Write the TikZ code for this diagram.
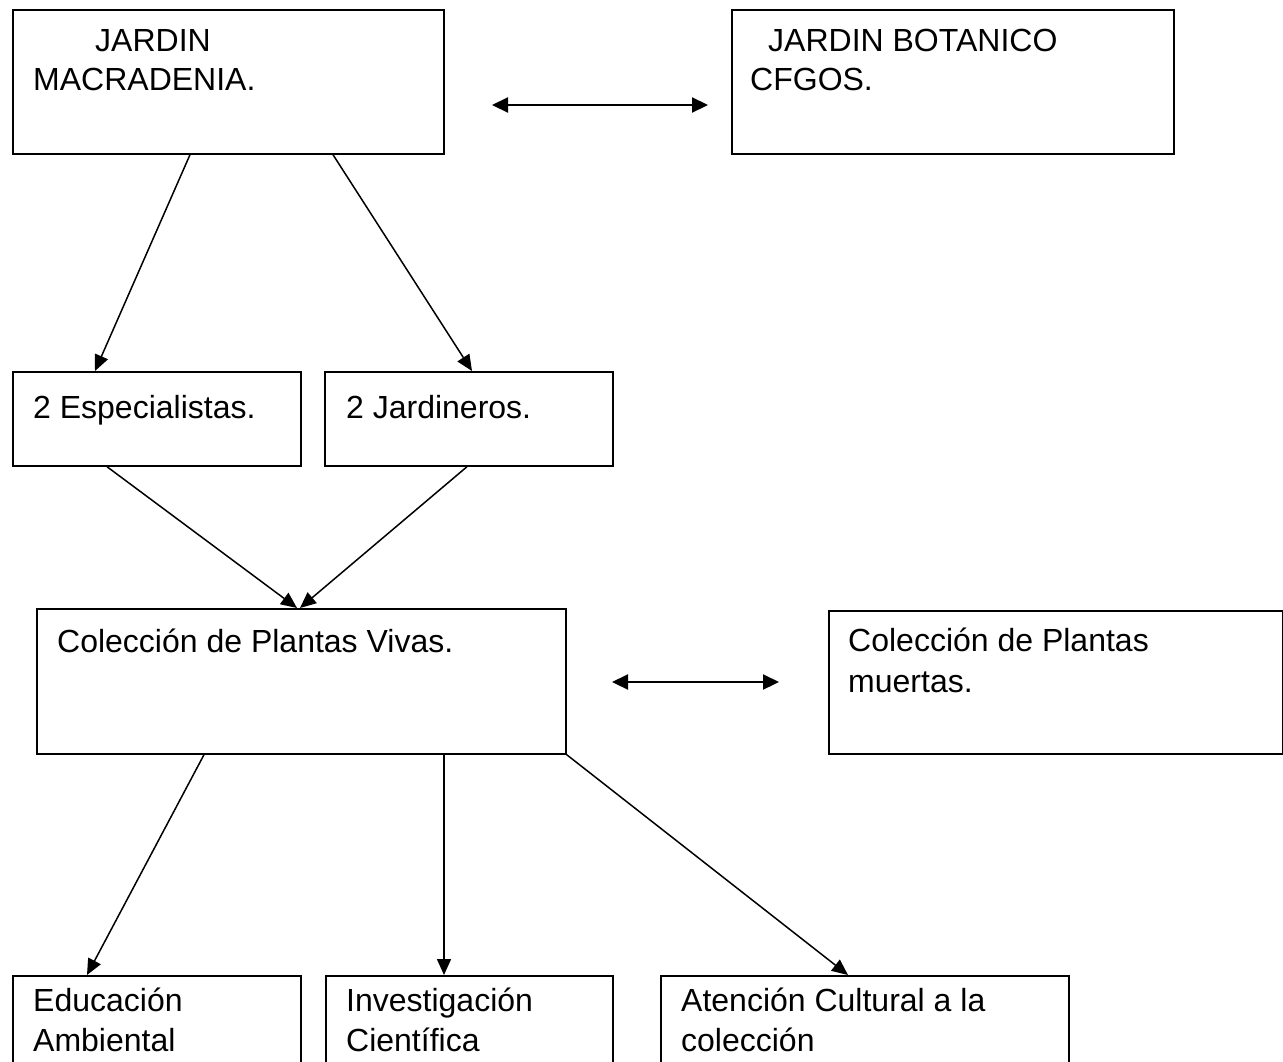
\documentclass[tikz,border=0pt]{standalone}
\usepackage{fontspec}
\setmainfont{Liberation Sans}
\usetikzlibrary{arrows.meta,calc}
\begin{document}
\begin{tikzpicture}[x=1pt,y=-1pt,
  box/.style={draw,line width=1.7pt,anchor=north west,inner sep=0pt},
  txt/.style={anchor=base west,inner sep=0pt,font=\fontsize{32}{38}\selectfont},
  arr/.style={line width=1.5pt,-{Triangle[length=16pt,width=14pt]}},
  darr/.style={line width=2.2pt,{Triangle[length=16pt,width=15pt]}-{Triangle[length=16pt,width=15pt]}}]
\useasboundingbox (0,0) rectangle (1283,1061);
\clip (0,0) rectangle (1283,1061);
% boxes
\node[box,minimum width=431pt,minimum height=144pt] (A) at (12,9) {};
\node[box,minimum width=442pt,minimum height=144pt] (B) at (731,9) {};
\node[box,minimum width=288pt,minimum height=94pt] (Esp) at (12,371) {};
\node[box,minimum width=288pt,minimum height=94pt] (Jar) at (324,371) {};
\node[box,minimum width=529pt,minimum height=145pt] (Viv) at (36,608) {};
\node[box,minimum width=454pt,minimum height=143pt] (Mue) at (828,610) {};
\node[box,minimum width=288pt,minimum height=150pt] (Edu) at (12,975) {};
\node[box,minimum width=287pt,minimum height=150pt] (Inv) at (325,975) {};
\node[box,minimum width=408pt,minimum height=150pt] (Ate) at (660,975) {};
% texts
\node[txt] (tA1) at (95,51) {JARDIN};
\node[txt] (tA2) at (33,90) {MACRADENIA.};
\node[txt] (tB1) at (768,51) {JARDIN BOTANICO};
\node[txt] (tB2) at (750,90) {CFGOS.};
\node[txt] (tE) at (33,418) {2 Especialistas.};
\node[txt] (tJ) at (346,418) {2 Jardineros.};
\node[txt] (tV) at (57,652) {Colección de Plantas Vivas.};
\node[txt] (tM1) at (848,651) {Colección de Plantas};
\node[txt] (tM2) at (848,692) {muertas.};
\node[txt] (tEd1) at (33,1011) {Educación};
\node[txt] (tEd2) at (33,1051) {Ambiental};
\node[txt] (tI1) at (346,1011) {Investigación};
\node[txt] (tI2) at (346,1051) {Científica};
\node[txt] (tAt1) at (681,1011) {Atención Cultural a la};
\node[txt] (tAt2) at (681,1051) {colección};
% double arrows
\coordinate (d1a) at (492,105);
\coordinate (d1b) at (708,105);
\coordinate (d2a) at (612,682);
\coordinate (d2b) at (779,682);
\draw[darr] (d1a) -- (d1b);
\draw[darr] (d2a) -- (d2b);
% connectors
\draw[arr] ([xshift=178pt]A.south west) -- ([xshift=83pt]Esp.north west);
\draw[arr] ([xshift=321pt]A.south west) -- ([xshift=148pt]Jar.north west);
\draw[arr] ([xshift=95pt]Esp.south west) -- ([xshift=261pt]Viv.north west);
\draw[arr] ([xshift=143pt]Jar.south west) -- ([xshift=264pt]Viv.north west);
\draw[arr] ([xshift=168pt]Viv.south west) -- ([xshift=75pt]Edu.north west);
\draw[arr] ([xshift=408pt]Viv.south west) -- ([xshift=119pt]Inv.north west);
\draw[arr] (Viv.south east) -- ([xshift=188pt]Ate.north west);
\end{tikzpicture}
\end{document}
